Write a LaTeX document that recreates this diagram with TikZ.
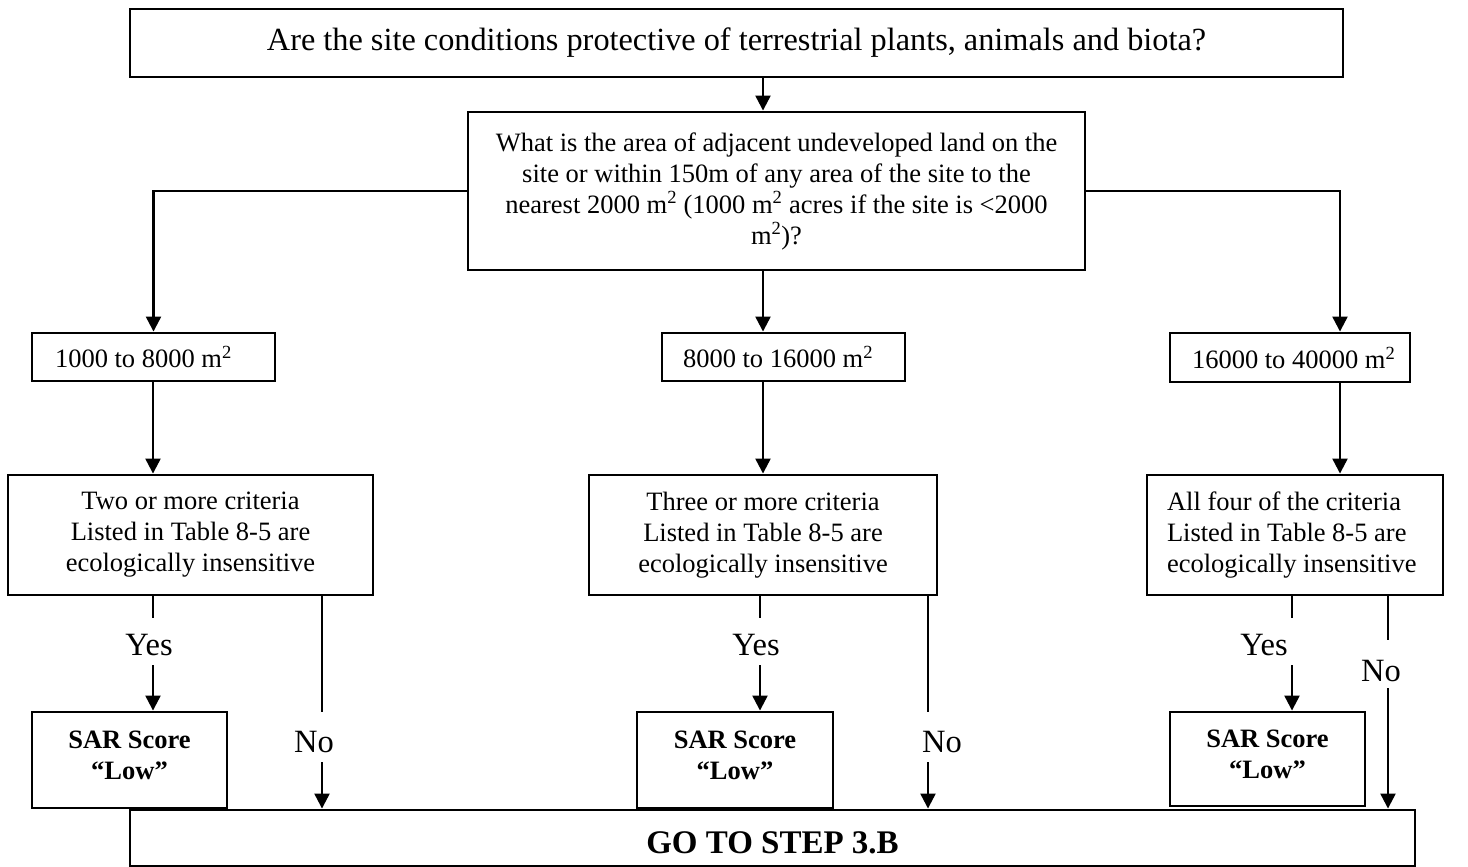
\documentclass[tikz,border=0pt]{standalone}
\usepackage{fontspec}
\setmainfont{Liberation Serif}
\usetikzlibrary{arrows.meta,calc}

\begin{document}
\begin{tikzpicture}[x=1pt,y=-1pt,
  box/.style={draw, line width=2.9pt, inner sep=0pt, align=center,
              font=\fontsize{26.5}{31}\selectfont},
  padbox/.style={box, align=flush left},
  sarbox/.style={box, text depth=10pt, font=\fontsize{26.5}{31}\bfseries\selectfont},
  lbl/.style={inner sep=0pt, font=\fontsize{32.5}{36}\selectfont},
  ln/.style={line width=2.3pt},
  arr/.style={line width=2.3pt, -{Triangle[length=15pt,width=15pt]}}]

\useasboundingbox (0,0) rectangle (1468,867);

% question boxes
\node[box, minimum width=1213pt, minimum height=68pt,
      font=\fontsize{32.3}{36}\selectfont] (top) at (736.5,43)
  {Are the site conditions protective of terrestrial plants, animals and biota?};
\node[box, minimum width=617pt, minimum height=158pt] (q) at (776.5,191)
  {What is the area of adjacent undeveloped land on the\\
   site or within 150m of any area of the site to the\\
   nearest 2000 m\textsuperscript{2} (1000 m\textsuperscript{2} acres if the site is <2000\\
   m\textsuperscript{2})?};

% area ranges
\node[padbox, text width=243pt, minimum height=48pt] (r1) at (153.5,357)
  {\hspace*{23pt}1000 to 8000 m\textsuperscript{2}};
\node[padbox, text width=243pt, minimum height=48pt] (r2) at (783.5,357)
  {\hspace*{21pt}8000 to 16000 m\textsuperscript{2}};
\node[padbox, text width=240pt, minimum height=49pt] (r3) at (1290,357.5)
  {\hspace*{22pt}16000 to 40000 m\textsuperscript{2}};

% criteria tests
\node[box, minimum width=365pt, minimum height=120pt] (c1) at (190.5,535)
  {Two or more criteria\\Listed in Table 8-5 are\\ecologically insensitive};
\node[box, minimum width=348pt, minimum height=120pt] (c2) at (763,535)
  {Three or more criteria\\Listed in Table 8-5 are\\ecologically insensitive};
\node[padbox, text width=296pt, minimum height=120pt] (c3) at (1295,535)
  {\hspace*{20pt}All four of the criteria\\
   \hspace*{20pt}Listed in Table 8-5 are\\
   \hspace*{20pt}ecologically insensitive};

% outcomes
\node[sarbox, minimum width=195pt, minimum height=96pt] (s1) at (129.5,760)
  {SAR Score\\“Low”};
\node[sarbox, minimum width=196pt, minimum height=96pt] (s2) at (735,760)
  {SAR Score\\“Low”};
\node[sarbox, minimum width=195pt, minimum height=94pt] (s3) at (1267.5,759)
  {SAR Score\\“Low”};
\node[box, minimum width=1285pt, minimum height=56pt, text height=31pt, text depth=0pt,
      font=\fontsize{33}{36}\bfseries\selectfont] (go) at (772.5,838)
  {GO TO STEP 3.B};

% branch labels
\node[lbl] (yes1) at (149,645) {Yes};
\node[lbl] (no1)  at (314,742) {No};
\node[lbl] (yes2) at (756,645) {Yes};
\node[lbl] (no2)  at (942,742) {No};
\node[lbl] (yes3) at (1264,645) {Yes};
\node[lbl] (no3)  at (1381,671) {No};

% vertical line positions
\coordinate (xr) at (1340,0);
\coordinate (xa) at (153,0);
\coordinate (xb) at (322,0);
\coordinate (xc) at (760,0);
\coordinate (xd) at (928,0);
\coordinate (xe) at (1292,0);
\coordinate (xf) at (1388,0);

% connectors
\draw[arr] (top.south -| c2.north) -- (q.north -| c2.north);
\draw[arr] (q.west) -| (r1.north);
\draw[arr] (q.south -| c2.north) -- (r2.north -| c2.north);
\draw[arr] (q.east) -| (r3.north -| xr);

\draw[arr] (r1.south -| xa) -- (c1.north -| xa);
\draw[arr] (r2.south -| c2.north) -- (c2.north);
\draw[arr] (r3.south -| xr) -- (c3.north -| xr);

\draw[ln, shorten >=16pt] (c1.south -| xa) -- (yes1.north -| xa);
\draw[arr, shorten <=9pt] (yes1.south -| xa) -- (s1.north -| xa);
\draw[ln, shorten >=19pt] (c1.south -| xb) -- (no1.north -| xb);
\draw[arr, shorten <=9pt] (no1.south -| xb) -- (go.north -| xb);

\draw[ln, shorten >=16pt] (c2.south -| xc) -- (yes2.north -| xc);
\draw[arr, shorten <=9pt] (yes2.south -| xc) -- (s2.north -| xc);
\draw[ln, shorten >=19pt] (c2.south -| xd) -- (no2.north -| xd);
\draw[arr, shorten <=9pt] (no2.south -| xd) -- (go.north -| xd);

\draw[ln, shorten >=16pt] (c3.south -| xe) -- (yes3.north -| xe);
\draw[arr, shorten <=9pt] (yes3.south -| xe) -- (s3.north -| xe);
\draw[ln, shorten >=20pt] (c3.south -| xf) -- (no3.north -| xf);
\draw[arr, shorten <=6pt] (no3.south -| xf) -- (go.north -| xf);
\end{tikzpicture}
\end{document}
